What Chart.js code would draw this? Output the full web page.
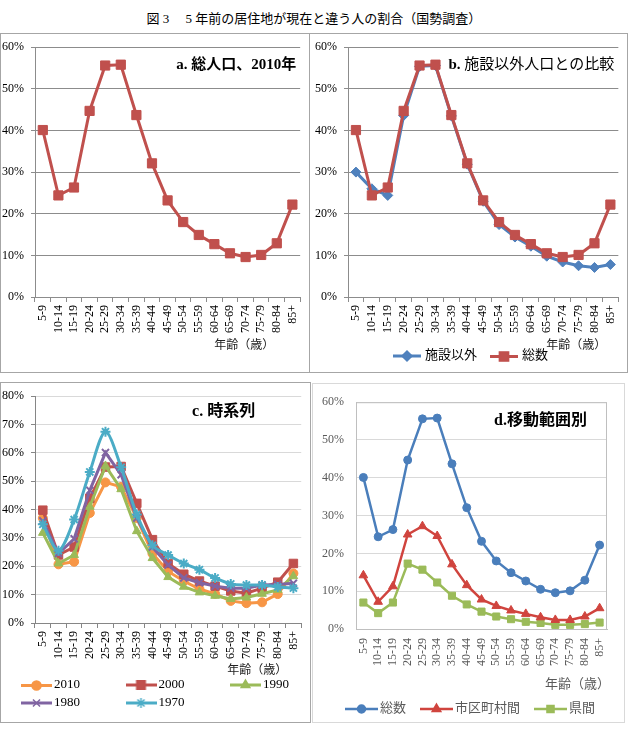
<!DOCTYPE html>
<html>
<head>
<meta charset="utf-8">
<script src="https://cdn.jsdelivr.net/npm/chart.js@4.4.1/dist/chart.umd.min.js"></script>
<style>
body { margin: 0; background: #fff; width: 628px; height: 733px; position: relative; overflow: hidden; }
.box { position: absolute; box-sizing: border-box; }
canvas { position: absolute; }
#title { position: absolute; left: 0; top: 8px; width: 628px; text-align: center; line-height: 18px;
  font: 13px 'Liberation Serif', 'Noto Sans CJK JP', serif; }
</style>
</head>
<body>
<div id="title">図 3　 5 年前の居住地が現在と違う人の割合（国勢調査）</div>
<div class="box" style="left:0;top:33px;width:628px;height:340px;border:1px solid #a6a6a6"></div>
<div class="box" style="left:309px;top:33px;width:1px;height:340px;background:#a6a6a6"></div>
<div class="box" style="left:0;top:382px;width:311px;height:341px;border:1px solid #a6a6a6"></div>
<div class="box" style="left:312px;top:383px;width:313px;height:340px;border:1px solid #d9d9d9"></div>
<canvas id="ca" width="310" height="339" style="left:0;top:33px"></canvas>
<canvas id="cb" width="317" height="339" style="left:311px;top:33px"></canvas>
<canvas id="cc" width="311" height="340" style="left:0;top:382px"></canvas>
<canvas id="cd" width="314" height="339" style="left:312px;top:383px"></canvas>
<script>
const FONT = "'Liberation Serif', 'Noto Sans CJK JP', serif";
Chart.defaults.font.family = FONT;
Chart.defaults.font.size = 12;
Chart.defaults.color = '#000';
Chart.defaults.animation = false;

// 年齢階級
const ages = ['5-9', '10-14', '15-19', '20-24', '25-29', '30-34', '35-39', '40-44', '45-49',
  '50-54', '55-59', '60-64', '65-69', '70-74', '75-79', '80-84', '85+'];

// a, b, d: 総数 (2010)
const total2010 = [40.1, 24.4, 26.3, 44.7, 55.6, 55.8, 43.7, 32.1, 23.2, 18.0, 14.9, 12.7, 10.5, 9.6, 10.1, 12.9, 22.2];
// b: 施設以外
const nonInst2010 = [30.0, 26.0, 24.4, 43.6, 55.4, 55.6, 43.5, 31.9, 23.0, 17.4, 14.4, 12.2, 9.8, 8.4, 7.5, 7.1, 7.8];
// c: 時系列
const y2010 = [37.0, 20.7, 21.6, 38.8, 49.6, 48.0, 37.0, 24.5, 18.2, 14.8, 12.0, 10.3, 7.8, 7.0, 7.3, 10.2, 17.5];
const y2000 = [39.8, 24.0, 26.8, 44.0, 55.0, 55.2, 42.2, 29.4, 21.0, 17.2, 14.8, 13.0, 11.3, 10.5, 12.3, 14.4, 21.0];
const y1990 = [31.8, 21.0, 24.0, 41.0, 55.4, 47.2, 32.4, 22.9, 16.2, 12.8, 10.8, 9.6, 8.5, 9.0, 10.3, 11.7, 16.5];
const y1980 = [36.0, 24.5, 29.7, 46.8, 60.1, 52.3, 37.0, 26.8, 20.5, 15.9, 14.2, 13.0, 12.3, 12.3, 13.4, 13.6, 14.0];
const y1970 = [34.8, 25.5, 36.5, 53.3, 67.5, 54.9, 38.3, 27.4, 24.0, 21.0, 18.8, 15.9, 13.8, 13.4, 13.4, 12.7, 12.3];
// d: 移動範囲別
const muni2010 = [14.2, 7.2, 11.3, 25.0, 27.2, 24.6, 17.1, 11.6, 7.8, 6.1, 4.9, 4.0, 3.1, 2.4, 2.4, 3.3, 5.5];
const pref2010 = [7.0, 4.2, 7.0, 17.3, 15.7, 12.3, 8.8, 6.5, 4.6, 3.3, 2.6, 1.9, 1.6, 1.1, 1.1, 1.3, 1.7];

// legend icon: line + marker
function icon(color, style, r, w, lw) {
  const c = document.createElement('canvas');
  c.width = w;
  c.height = 2 * r + 6;
  const g = c.getContext('2d');
  g.strokeStyle = color;
  g.fillStyle = color;
  g.lineWidth = lw;
  g.beginPath();
  g.moveTo(0, c.height / 2);
  g.lineTo(w, c.height / 2);
  g.stroke();
  g.lineWidth = 1.5;
  Chart.helpers.drawPoint(g, {pointStyle: style, radius: r, rotation: 0, borderWidth: 1.5}, w / 2, c.height / 2);
  return c;
}

function series(label, data, color, style, r, extra) {
  return Object.assign({
    label: label,
    data: data,
    borderColor: color,
    backgroundColor: color,
    pointBackgroundColor: color,
    pointBorderColor: color,
    pointStyle: style,
    pointRadius: r,
    pointBorderWidth: 1,
    borderWidth: 3,
    tension: 0
  }, extra);
}

// panel labels, axis titles, plot frame
const notes = {
  id: 'notes',
  beforeDatasetsDraw(chart, args, o) {
    if (!o.frame) return;
    const g = chart.ctx, a = chart.chartArea;
    g.save();
    g.strokeStyle = o.frame;
    g.lineWidth = 1;
    g.strokeRect(a.left + 0.5, a.top + 0.5, a.right - a.left - 1, a.bottom - a.top);
    g.restore();
  },
  afterDraw(chart, args, o) {
    const g = chart.ctx, a = chart.chartArea;
    (o.items || []).forEach(t => {
      const parts = t.parts;
      g.save();
      g.textBaseline = 'middle';
      g.textAlign = 'left';
      g.fillStyle = t.color || '#000';
      let w = 0;
      parts.forEach(p => { g.font = p[1]; w += g.measureText(p[0]).width; });
      let x = a.right - t.dx - w;
      const y = t.bottom ? a.bottom + t.dy : a.top + t.dy;
      parts.forEach(p => { g.font = p[1]; g.fillText(p[0], x, y); x += g.measureText(p[0]).width; });
      g.restore();
    });
  }
};

// legend: icon + text, in a row or in columns
const iconLegend = {
  id: 'iconLegend',
  afterDraw(chart, args, o) {
    if (!o.font) return;
    const g = chart.ctx;
    g.save();
    g.font = o.font;
    g.fillStyle = o.color;
    g.textBaseline = 'middle';
    g.textAlign = 'left';
    let x = o.x, y = o.y;
    chart.data.datasets.forEach((ds, i) => {
      if (o.cols) {
        x = o.x + (i % o.cols) * o.colW;
        y = o.y + Math.floor(i / o.cols) * o.rowH;
      }
      g.drawImage(ds.icon, x, Math.round(y - ds.icon.height / 2));
      const tx = x + ds.icon.width + o.gap;
      g.fillText(ds.label, tx, y);
      if (!o.cols) x = tx + g.measureText(ds.label).width + o.itemGap;
    });
    g.restore();
  }
};
Chart.register(notes, iconLegend);

function xAxis(h, o) {
  return {
    type: 'category',
    offset: true,
    grid: {offset: true, drawOnChartArea: false, drawTicks: o.ticks, tickLength: 5, color: o.axis, display: true},
    border: {color: o.axis},
    ticks: {minRotation: 90, maxRotation: 90, autoSkip: false, padding: o.pad, color: o.color, font: {size: 12}},
    afterFit: s => { s.height = h; }
  };
}

function yAxis(w, max, o) {
  return {
    min: 0,
    max: max,
    grid: {color: o.grid, drawTicks: o.ticks, tickLength: 4, tickColor: o.axis},
    border: {color: o.axis},
    ticks: {stepSize: 10, padding: o.pad, color: o.color, callback: v => v + '%', font: {size: 12}},
    afterFit: s => { s.width = w; }
  };
}

const bold = sz => 'bold ' + sz + 'px ' + FONT;
const norm = sz => sz + 'px ' + FONT;
const RED = '#C0504D', BLUE = '#4F81BD', GREEN = '#9BBB59', PURPLE = '#8064A2', CYAN = '#4BACC6', ORANGE = '#F79646';
const abX = {axis: '#8c8c8c', ticks: true, pad: 3, color: '#000'};
const abY = {axis: '#8c8c8c', grid: '#8c8c8c', ticks: true, pad: 7, color: '#000'};

// a. 総人口、2010年
new Chart(document.getElementById('ca'), {
  type: 'line',
  data: {
    labels: ages,
    datasets: [series('総数', total2010, RED, 'rect', 6.5)]
  },
  options: {
    responsive: false,
    layout: {padding: {top: 11, left: 0, right: 1, bottom: 15}},
    plugins: {
      legend: {display: false},
      tooltip: {enabled: false},
      notes: {items: [
        {parts: [['a. 総人口、2010年', bold(15)]], dx: 4, dy: 18},
        {parts: [['年齢（歳）', norm(12)]], dx: 26, dy: 49, bottom: true, color: '#222'}
      ]}
    },
    scales: {x: xAxis(60, abX), y: yAxis(35, 60, abY)}
  }
});

// b. 施設以外人口との比較
new Chart(document.getElementById('cb'), {
  type: 'line',
  data: {
    labels: ages,
    datasets: [
      series('施設以外', nonInst2010, BLUE, 'rectRot', 5, {order: 2, icon: icon(BLUE, 'rectRot', 5, 28, 3)}),
      series('総数', total2010, RED, 'rect', 6.5, {order: 1, icon: icon(RED, 'rect', 6.5, 28, 3)})
    ]
  },
  options: {
    responsive: false,
    layout: {padding: {top: 11, left: 0, right: 1, bottom: 33}},
    plugins: {
      legend: {display: false},
      tooltip: {enabled: false},
      iconLegend: {x: 82, y: 323, gap: 4, itemGap: 13, font: '13px ' + FONT, color: '#000'},
      notes: {items: [
        {parts: [['b. ', bold(15)], ['施設以外人口との比較', norm(15)]], dx: 4, dy: 18},
        {parts: [['年齢（歳）', norm(12)]], dx: 12, dy: 49, bottom: true, color: '#222'}
      ]}
    },
    scales: {x: xAxis(42, abX), y: yAxis(37, 60, abY)}
  }
});

// c. 時系列
new Chart(document.getElementById('cc'), {
  type: 'line',
  data: {
    labels: ages,
    datasets: [
      series('2010', y2010, ORANGE, 'circle', 4.5, {order: 5, icon: icon(ORANGE, 'circle', 4.5, 31, 3)}),
      series('2000', y2000, RED, 'rect', 6, {order: 4, icon: icon(RED, 'rect', 6, 31, 3)}),
      series('1990', y1990, GREEN, 'triangle', 5, {order: 3, icon: icon(GREEN, 'triangle', 5, 31, 3)}),
      series('1980', y1980, PURPLE, 'crossRot', 5, {order: 2, pointBorderWidth: 2, icon: icon(PURPLE, 'crossRot', 5, 31, 3)}),
      series('1970', y1970, CYAN, 'star', 5, {order: 1, pointBorderWidth: 2, tension: 0.3, icon: icon(CYAN, 'star', 5, 31, 3)})
    ]
  },
  options: {
    responsive: false,
    layout: {padding: {top: 8, left: 0, right: 2, bottom: 44}},
    plugins: {
      legend: {display: false},
      tooltip: {enabled: false},
      notes: {items: [
        {parts: [['c. 時系列', bold(16)]], dx: 46, dy: 16},
        {parts: [['年齢（歳）', norm(12)]], dx: 14, dy: 48, bottom: true, color: '#222'}
      ]},
      iconLegend: {x: 21, y: 303, cols: 3, colW: 104.5, rowH: 18, gap: 2, font: '13px ' + FONT, color: '#000'}
    },
    scales: {
      x: xAxis(55, {axis: '#868686', ticks: true, pad: 3, color: '#000'}),
      y: yAxis(35, 80, {axis: '#868686', grid: '#d9d9d9', ticks: true, pad: 7, color: '#000'})
    }
  }
});

// d. 移動範囲別
const D_BLUE = '#4A7EBB', D_RED = '#D0443E', D_GREEN = '#9BBB59';
new Chart(document.getElementById('cd'), {
  type: 'line',
  data: {
    labels: ages,
    datasets: [
      series('総数', total2010, D_BLUE, 'circle', 4, {borderWidth: 2.5, icon: icon(D_BLUE, 'circle', 4, 33, 2.5)}),
      series('市区町村間', muni2010, D_RED, 'triangle', 5, {borderWidth: 2.5, icon: icon(D_RED, 'triangle', 5, 33, 2.5)}),
      series('県間', pref2010, D_GREEN, 'rect', 5, {borderWidth: 2.5, icon: icon(D_GREEN, 'rect', 5, 33, 2.5)})
    ]
  },
  options: {
    responsive: false,
    layout: {padding: {top: 16, left: 0, right: 19, bottom: 33}},
    plugins: {
      legend: {display: false},
      tooltip: {enabled: false},
      iconLegend: {x: 33, y: 326, gap: 2, itemGap: 14, font: '13px ' + FONT, color: '#595959'},
      notes: {frame: '#bfbfbf', items: [
        {parts: [['d.移動範囲別', bold(16)]], dx: 20, dy: 19},
        {parts: [['年齢（歳）', norm(13)]], dx: -3, dy: 56, bottom: true, color: '#595959'}
      ]}
    },
    scales: {
      x: xAxis(60, {axis: '#bfbfbf', ticks: false, pad: 9, color: '#595959'}),
      y: yAxis(44, 60, {axis: '#bfbfbf', grid: '#d9d9d9', ticks: false, pad: 12, color: '#595959'})
    }
  }
});
</script>
</body>
</html>
